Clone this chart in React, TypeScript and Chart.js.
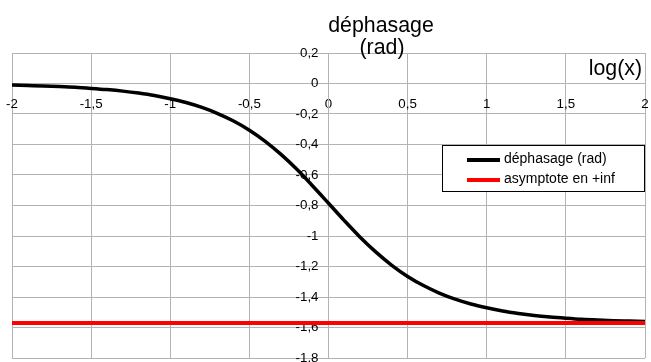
import React, { useEffect, useRef } from "react";
import { Chart, registerables } from "chart.js";

Chart.register(...registerables);

const logX = [
  -2, -1.9, -1.8, -1.7, -1.6, -1.5, -1.4, -1.3, -1.2, -1.1, -1, -0.9, -0.8, -0.7,
  -0.6, -0.5, -0.4, -0.3, -0.2, -0.1, 0, 0.1, 0.2, 0.3, 0.4, 0.5, 0.6, 0.7, 0.8,
  0.9, 1, 1.1, 1.2, 1.3, 1.4, 1.5, 1.6, 1.7, 1.8, 1.9, 2,
];
const phase = [
  -0.01, -0.013, -0.016, -0.02, -0.025, -0.032, -0.04, -0.05, -0.063, -0.079,
  -0.1, -0.125, -0.157, -0.197, -0.246, -0.306, -0.379, -0.465, -0.563, -0.672,
  -0.785, -0.899, -1.008, -1.106, -1.192, -1.265, -1.325, -1.374, -1.414, -1.446,
  -1.471, -1.492, -1.508, -1.521, -1.531, -1.539, -1.546, -1.551, -1.555, -1.558,
  -1.561,
];
const asymX = [-2, 2];
const asymY = [-1.571, -1.571];

const seriesNames = ["déphasage (rad)", "asymptote en +inf"];
const titleLines = ["déphasage", "(rad)"];
const xAxisName = "log(x)";

const FONT = '"Liberation Sans", Arial, sans-serif';

const fmt = (v: number) => String(Math.round(v * 10) / 10).replace(".", ",");

const overlayPlugin = {
  id: "overlay",
  beforeDraw(chart: any) {
    // move y tick labels away from the centred axis line
    const ys = chart.scales.y;
    const items = ys.getLabelItems();
    if (items && !items.__shifted) {
      items.forEach((it: any) => {
        it.options.translation[0] -= 10;
      });
      items.__shifted = true;
    }
  },
  afterDraw(chart: any) {
    const ctx = chart.ctx;
    ctx.save();
    // axis titles
    ctx.fillStyle = "#000";
    ctx.font = `21.33px ${FONT}`;
    ctx.textAlign = "center";
    ctx.textBaseline = "alphabetic";
    ctx.fillText(titleLines[0], 381, 31.5);
    ctx.fillText(titleLines[1], 382, 54);
    ctx.textAlign = "right";
    ctx.fillText(xAxisName, 642, 75);

    // legend
    const bx = 442.5, by = 145.5, bw = 202, bh = 46;
    ctx.fillStyle = "#fff";
    ctx.fillRect(bx, by, bw, bh);
    ctx.strokeStyle = "#000";
    ctx.lineWidth = 1;
    ctx.strokeRect(bx, by, bw, bh);
    const ds = chart.data.datasets;
    ds.forEach((d: any, i: number) => {
      const cy = 160 + i * 20;
      ctx.strokeStyle = d.borderColor;
      ctx.lineWidth = 4;
      ctx.beginPath();
      ctx.moveTo(467, cy);
      ctx.lineTo(500, cy);
      ctx.stroke();
      ctx.fillStyle = "#000";
      ctx.font = `14px ${FONT}`;
      ctx.textAlign = "left";
      ctx.textBaseline = "alphabetic";
      ctx.fillText(d.label, 504, cy + 3);
    });
    ctx.restore();
  },
};

const zeroPad = (s: any) => {
  s.paddingLeft = 0;
  s.paddingRight = 0;
  s.paddingTop = 0;
  s.paddingBottom = 0;
};

export default function App() {
  const ref = useRef<HTMLCanvasElement>(null);
  useEffect(() => {
    if (!ref.current) return;
    const grid = "#b3b3b3";
    const chart = new Chart(ref.current, {
      type: "line",
      data: {
        datasets: [
          {
            label: seriesNames[0],
            data: logX.map((x, i) => ({ x, y: phase[i] })),
            borderColor: "#000000",
            borderWidth: 3.5,
            pointRadius: 0,
            cubicInterpolationMode: "monotone",
            order: 1,
          },
          {
            label: seriesNames[1],
            data: asymX.map((x, i) => ({ x, y: asymY[i] })),
            borderColor: "#ff0000",
            borderWidth: 4,
            pointRadius: 0,
            order: 0,
          },
        ],
      },
      options: {
        animation: false,
        responsive: false,
        layout: { padding: { left: 12, right: 6, top: 53, bottom: 4 }, autoPadding: false },
        plugins: { legend: { display: false }, tooltip: { enabled: false }, title: { display: false } },
        scales: {
          x: {
            type: "linear",
            position: { y: 0 } as any,
            min: -2,
            max: 2,
            afterFit: zeroPad,
            ticks: {
              stepSize: 0.5,
              autoSkip: false,
              maxRotation: 0,
              padding: 13,
              color: "#000",
              font: { family: FONT, size: 13.33 },
              callback: (v: any) => fmt(Number(v)),
            },
            grid: { color: grid, lineWidth: 1, drawTicks: false },
            border: { display: true, color: grid, width: 1 },
          },
          y: {
            type: "linear",
            position: { x: 0 } as any,
            min: -1.8,
            max: 0.2,
            afterFit: zeroPad,
            ticks: {
              stepSize: 0.2,
              autoSkip: false,
              padding: 10,
              color: "#000",
              font: { family: FONT, size: 13.33 },
              callback: (v: any) => fmt(Number(v)),
            },
            grid: { color: grid, lineWidth: 1, drawTicks: false },
            border: { display: true, color: grid, width: 1 },
          },
        },
      },
      plugins: [overlayPlugin],
    } as any);
    return () => chart.destroy();
  }, []);
  return (
    <div style={{ position: "fixed", left: 0, top: 0, width: 651, height: 362, background: "#fff" }}>
      <canvas ref={ref} width={651} height={362} style={{ width: 651, height: 362, display: "block" }} />
    </div>
  );
}
